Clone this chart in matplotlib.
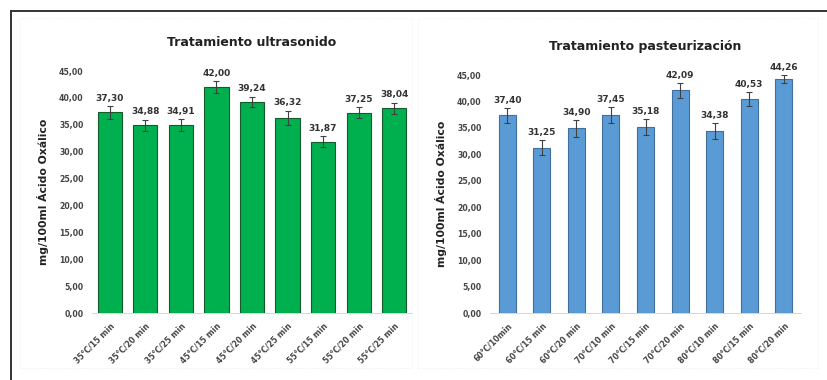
import matplotlib
matplotlib.use("Agg")
import matplotlib.pyplot as plt
from matplotlib.patches import Rectangle
from matplotlib.lines import Line2D

# ---- data ----
us_labels = ["35°C/15 min", "35°C/20 min", "35°C/25 min",
             "45°C/15 min", "45°C/20 min", "45°C/25 min",
             "55°C/15 min", "55°C/20 min", "55°C/25 min"]
us_values = [37.30, 34.88, 34.91, 42.00, 39.24, 36.32, 31.87, 37.25, 38.04]
us_err = [1.2, 1.1, 1.1, 1.1, 1.0, 1.3, 1.0, 1.0, 1.1]

past_labels = ["60°C/10min", "60°C/15 min", "60°C/20 min",
               "70°C/10 min", "70°C/15 min", "70°C/20 min",
               "80°C/10 min", "80°C/15 min", "80°C/20 min"]
past_values = [37.40, 31.25, 34.90, 37.45, 35.18, 42.09, 34.38, 40.53, 44.26]
past_err = [1.4, 1.45, 1.6, 1.5, 1.5, 1.4, 1.5, 1.3, 0.7]

yticks = [0, 5, 10, 15, 20, 25, 30, 35, 40, 45]
ytick_labels = ["{:.2f}".format(v).replace(".", ",") for v in yticks]

plt.rcParams['font.family'] = ['DejaVu Sans']

fig = plt.figure(figsize=(8.27, 3.8), dpi=100)

# outer frame (top and left visible, rest cut off)
fig.add_artist(Line2D([11/827, 1.0], [1-11/380, 1-11/380], color="#333333", lw=1.4))
fig.add_artist(Line2D([11/827, 11/827], [0, 1-11/380], color="#333333", lw=1.4))
# faint chart areas
fig.add_artist(Rectangle((20/827, 12/380), 392/827, 350/380, fill=False,
                         ec="#ececec", lw=0.6, ls=":"))
fig.add_artist(Rectangle((418/827, 12/380), 400/827, 350/380, fill=False,
                         ec="#ececec", lw=0.6, ls=":"))


def draw(ax, labels, values, err, color, edge, width, title, pad):
    x = range(len(values))
    ax.bar(x, values, width=width, color=color, edgecolor=edge, linewidth=0.8,
           yerr=err, error_kw=dict(ecolor="#404040", elinewidth=0.8, capsize=2.5,
                                   capthick=0.8))
    for i, v in enumerate(values):
        ax.text(i, v + err[i] + pad, "{:.2f}".format(v).replace(".", ","),
                ha="center", va="bottom", fontsize=6.5, fontweight="bold",
                color="#333333", clip_on=False)
    ax.set_xlim(-0.5, len(values) - 0.5)
    ax.set_ylim(0, 45)
    ax.set_yticks(yticks)
    ax.set_yticklabels(ytick_labels, fontsize=5.6, fontweight="bold", color="#444444")
    ax.set_xticks(list(x))
    ax.set_xticklabels(labels, rotation=45, ha="right", rotation_mode="anchor",
                       fontsize=5.6, fontweight="bold", color="#444444")
    ax.tick_params(axis="both", length=0, pad=6)
    for s in ["top", "right", "left"]:
        ax.spines[s].set_visible(False)
    ax.spines["bottom"].set_color("#e8c8c0")
    ax.spines["bottom"].set_linewidth(0.6)
    ax.set_ylabel("mg/100ml Ácido Oxálico", fontsize=7.8, fontweight="bold",
                  color="#222222", labelpad=7)
    ax.set_title(title, fontsize=9, fontweight="bold", color="#222222", pad=18)


ax1 = fig.add_axes([92/827, 1-313/380, 320/827, 242/380])
draw(ax1, us_labels, us_values, us_err, "#00B04F", "#145a2a", 0.68,
     "Tratamiento ultrasonido", 0.6)

ax2 = fig.add_axes([490/827, 1-313/380, 311/827, 238/380])
draw(ax2, past_labels, past_values, past_err, "#5B9BD5", "#3f6f9c", 0.49,
     "Tratamiento pasteurización", 0.6)

fig.savefig("out.png", dpi=100)
